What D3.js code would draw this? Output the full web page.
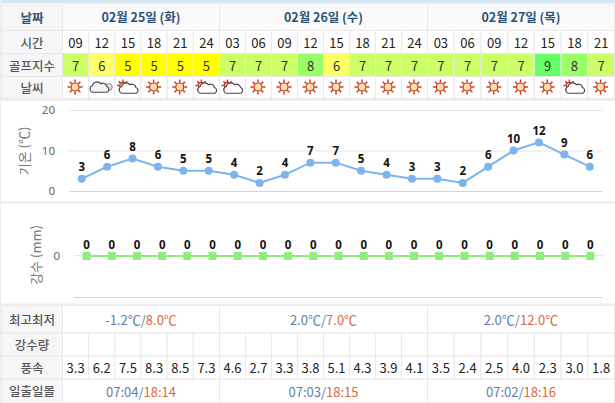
<!DOCTYPE html>
<html><head><meta charset="utf-8">
<script src="https://cdn.jsdelivr.net/npm/d3@7"></script>
<style>html,body{margin:0;padding:0;background:#fff;overflow:hidden}svg{display:block}text{font-family:"Noto Sans CJK KR","Noto Sans",sans-serif}</style>
</head><body><svg id="c" width="615" height="403"></svg>
<script>
const dates=["02월 25일 (화)","02월 26일 (수)","02월 27일 (목)"];
const dayCounts=[6,8,7];
const hours=["09","12","15","18","21","24","03","06","09","12","15","18","21","24","03","06","09","12","15","18","21"];
const golf=[7,6,5,5,5,5,7,7,7,8,6,7,7,7,7,7,7,7,9,8,7];
const weather=["sun","cloud","part","sun","sun","part","part","sun","sun","sun","sun","sun","sun","sun","sun","sun","sun","sun","sun","part","sun"];
const temps=[3,6,8,6,5,5,4,2,4,7,7,5,4,3,3,2,6,10,12,9,6];
const rain=[0,0,0,0,0,0,0,0,0,0,0,0,0,0,0,0,0,0,0,0,0];
const wind=["3.3","6.2","7.5","8.3","8.5","7.3","4.6","2.7","3.3","3.8","5.1","4.3","3.9","4.1","3.5","2.4","2.5","4.0","2.3","3.0","1.8"];
const minT=["-1.2℃","2.0℃","2.0℃"], maxT=["8.0℃","7.0℃","12.0℃"];
const sunrise=["07:04","07:03","07:02"], sunset=["18:14","18:15","18:16"];
const rowLabels=["날짜","시간","골프지수","날씨","최고최저","강수량","풍속","일출일몰"];
const golfColors={5:"#ffff00",6:"#ffff66",7:"#ccff66",8:"#99ff66",9:"#66ff66"};

const svg=d3.select("#c");
const line="#e9e9e9", labelBg="#f6f6f6", navy="#2b5278", gray="#555", blue="#5b80ad", red="#e0673a";
const cum=[0,...d3.cumsum(dayCounts)];
const colX=d3.scaleLinear().domain(cum).range([62.5,219.5,427.5,614.5]);
const rows={date:[4,30.5],time:[30.5,53.5],golf:[53.5,76.5],wx:[76.5,98.5],hl:[305.5,333],rainT:[333,356],wind:[356,379],sun:[379,402]};
svg.append("rect").attr("width",615).attr("height",403).attr("fill","#fff");
svg.append("rect").attr("width",615).attr("height",3).attr("fill","#d6e5f2");
svg.append("rect").attr("y",98.5).attr("width",615).attr("height",2.5).attr("fill","#eeeeee");
svg.append("rect").attr("y",201).attr("width",615).attr("height",2.5).attr("fill","#eeeeee");
svg.append("rect").attr("y",303.5).attr("width",615).attr("height",2).attr("fill","#eeeeee");
svg.append("rect").attr("x",0).attr("y",0).attr("width",1).attr("height",403).attr("fill","#eeeeee");
const cell=(x0,x1,r,fill)=>svg.append("rect").attr("x",x0).attr("y",rows[r][0]).attr("width",x1-x0).attr("height",rows[r][1]-rows[r][0]).attr("fill",fill||"#fff").attr("stroke",line).attr("stroke-width",1);
const txt=(x,y,s,o={})=>svg.append("text").attr("x",x).attr("y",y).attr("text-anchor",o.anchor||"middle").attr("dominant-baseline","central").attr("font-size",o.size||12).attr("font-weight",o.weight||400).attr("fill",o.fill||"#222").text(s);
const mid=r=>(rows[r][0]+rows[r][1])/2;

["date","time","golf","wx","hl","rainT","wind","sun"].forEach((r,i)=>{
  cell(1.5,62.5,r,labelBg);
  txt(32,mid(r),rowLabels[i],{size:12.5,weight:i==0?700:500,fill:i==0?navy:gray});
});
dates.forEach((d,i)=>{
  const a=colX(cum[i]), b=colX(cum[i+1]), c=(a+b)/2;
  cell(a,b,"date","#fafafa");
  txt(c,mid("date")-.5,d,{size:12.5,weight:700,fill:navy});
  cell(a,b,"hl");
  const g=svg.append("text").attr("x",c).attr("y",mid("hl")).attr("text-anchor","middle").attr("dominant-baseline","central").attr("font-size",13);
  g.append("tspan").attr("fill",blue).text(minT[i]);
  g.append("tspan").attr("fill",blue).text("/");
  g.append("tspan").attr("fill",red).text(maxT[i]);
  cell(a,b,"sun");
  const s=svg.append("text").attr("x",c).attr("y",mid("sun")).attr("text-anchor","middle").attr("dominant-baseline","central").attr("font-size",13);
  s.append("tspan").attr("fill",blue).text(sunrise[i]+"/");
  s.append("tspan").attr("fill",red).text(sunset[i]);
});
function sun(g,cx,cy,sc){
  d3.range(8).forEach(k=>{const t=k*Math.PI/4;
    g.append("line").attr("x1",cx+Math.cos(t)*4.5*sc).attr("y1",cy+Math.sin(t)*4.5*sc).attr("x2",cx+Math.cos(t)*7.5*sc).attr("y2",cy+Math.sin(t)*7.5*sc).attr("stroke","#c9301c").attr("stroke-width",1.4);});
  g.append("circle").attr("cx",cx).attr("cy",cy).attr("r",4*sc).attr("fill","#fbe6a8").attr("stroke","#c9301c").attr("stroke-width",1.2);
}
function cloud(g,cx,cy,fill){
  g.append("path").attr("transform",`translate(${cx},${cy}) scale(1.2)`).attr("d",`M-7 4a3 3 0 0 1 0-5.6a4 4 0 0 1 7-1.6a3.4 3.4 0 0 1 5 2.4a2.6 2.6 0 0 1 .4 4.8z`)
   .attr("fill",fill).attr("stroke","#444").attr("stroke-width",.95);
}
hours.forEach((h,i)=>{
  const a=colX(i), b=colX(i+1), c=(a+b)/2;
  cell(a,b,"time"); txt(c,mid("time"),h,{size:13});
  cell(a,b,"golf",golfColors[golf[i]]); txt(c,mid("golf"),golf[i],{size:13,fill:"#333"});
  cell(a,b,"wx");
  const g=svg.append("g"), y=mid("wx");
  if(weather[i]=="sun") sun(g,c-.5,y-.5,1);
  else if(weather[i]=="part"){ sun(g,c-5,y-2,.8); cloud(g,c+2,y+1,"#fff"); }
  else { g.append("circle").attr("cx",c+7).attr("cy",y-.5).attr("r",3.5).attr("fill","#e4e4e4").attr("stroke","#888"); cloud(g,c-1,y,"#f2f2f2"); }
  cell(a,b,"rainT");
  cell(a,b,"wind"); txt(c,mid("wind"),wind[i],{size:13,fill:"#222"});
});

const x1=d3.scaleBand().domain(d3.range(hours.length)).range([69,602.5]);
const y1=d3.scaleLinear().domain([0,20]).range([191,110]);
const yAxis=svg.append("g").attr("transform","translate(69,0)").call(d3.axisLeft(y1).tickValues([0,10,20]).tickSize(0).tickPadding(14));
yAxis.select(".domain").remove();
yAxis.selectAll("text").attr("font-size",11.5).attr("fill","#666").style("font-family",'"Noto Sans",sans-serif');
svg.append("g").selectAll("line").data([0,10,20]).join("line").attr("x1",69).attr("x2",602.5).attr("y1",d=>y1(d)+.5).attr("y2",d=>y1(d)+.5).attr("stroke",d=>d==0?"#ccd6eb":"#e6e6e6");
const tx=i=>x1(i)+x1.bandwidth()/2;
svg.append("path").datum(temps).attr("fill","none").attr("stroke","#7cb5ec").attr("stroke-width",2)
 .attr("d",d3.line().x((d,i)=>tx(i)).y(d=>y1(d)));
svg.append("g").selectAll("circle").data(temps).join("circle").attr("cx",(d,i)=>tx(i)).attr("cy",d=>y1(d)).attr("r",4).attr("fill","#7cb5ec");
svg.append("g").selectAll("text").data(temps).join("text").attr("x",(d,i)=>tx(i)).attr("y",d=>y1(d)-12).attr("text-anchor","middle").attr("dominant-baseline","central").attr("font-size",11.5).attr("font-weight",700).attr("fill","#111").style("font-family",'"Noto Sans",sans-serif').text(d=>d);
svg.append("text").attr("transform","translate(23,151) rotate(-90)").attr("text-anchor","middle").attr("dominant-baseline","central").attr("font-size",13).attr("fill","#777").text("기온 (℃)");

const x2=d3.scaleBand().domain(d3.range(hours.length)).range([74,603]);
const y2=d3.scaleLinear().domain([0,1]).range([256,215]);
const rx=i=>x2(i)+x2.bandwidth()/2;
svg.append("line").attr("x1",74).attr("x2",603).attr("y1",y2(0)-.5).attr("y2",y2(0)-.5).attr("stroke","#e6e6e6");
svg.append("line").attr("x1",74).attr("x2",603).attr("y1",297.5).attr("y2",297.5).attr("stroke","#ccd6eb");
const yAxis2=svg.append("g").attr("transform","translate(74,0)").call(d3.axisLeft(y2).tickValues([0]).tickFormat(d3.format("d")).tickSize(0).tickPadding(14));
yAxis2.select(".domain").remove();
yAxis2.selectAll("text").attr("font-size",11.5).attr("fill","#666").style("font-family",'"Noto Sans",sans-serif');
svg.append("path").datum(rain).attr("fill","none").attr("stroke","#90ed7d").attr("stroke-width",2)
 .attr("d",d3.line().x((d,i)=>rx(i)).y(d=>y2(d)));
svg.append("g").selectAll("rect").data(rain).join("rect").attr("x",(d,i)=>rx(i)-4).attr("y",d=>y2(d)-4).attr("width",8).attr("height",8).attr("fill","#90ed7d");
svg.append("g").selectAll("text").data(rain).join("text").attr("x",(d,i)=>rx(i)).attr("y",d=>y2(d)-12).attr("text-anchor","middle").attr("dominant-baseline","central").attr("font-size",11.5).attr("font-weight",700).attr("fill","#111").style("font-family",'"Noto Sans",sans-serif').text(d=>d);
svg.append("text").attr("transform","translate(35,255) rotate(-90)").attr("text-anchor","middle").attr("dominant-baseline","central").attr("font-size",13).attr("fill","#777").text("강수 (mm)");
</script></body></html>
